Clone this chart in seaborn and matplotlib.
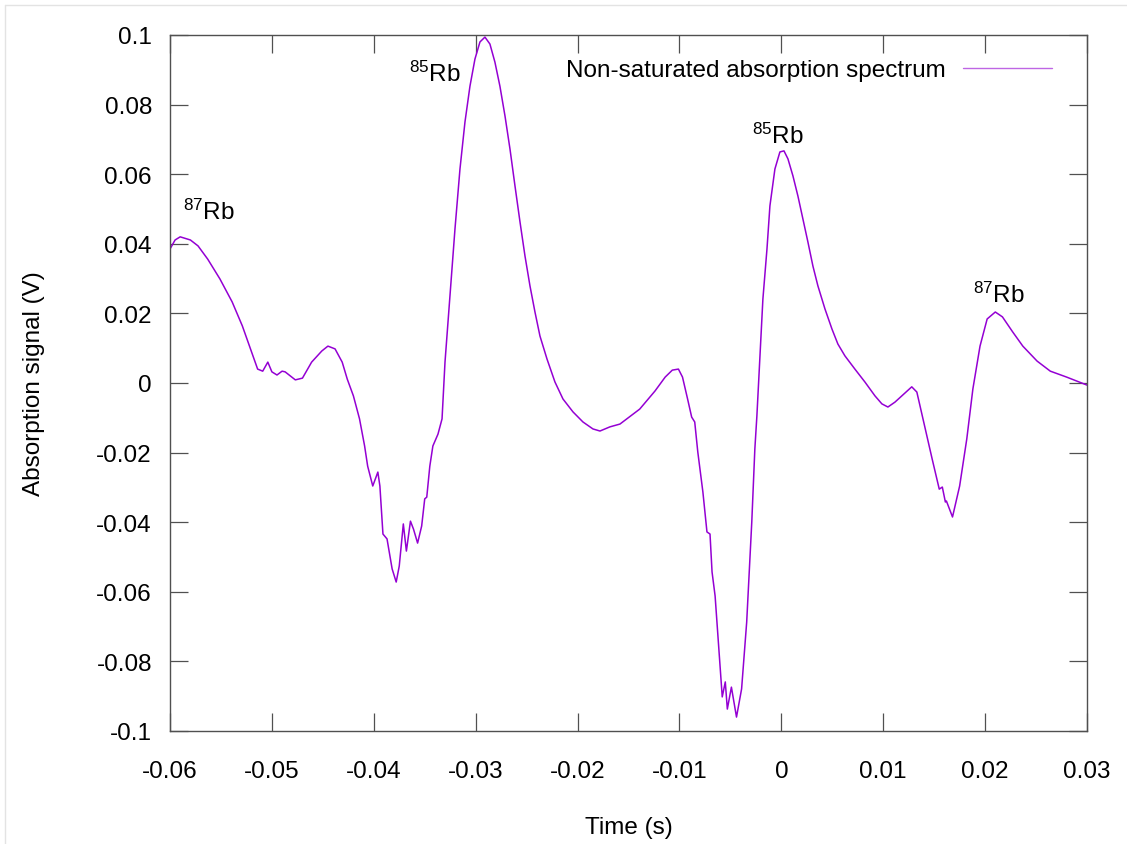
import numpy as np
import pandas as pd
import matplotlib
matplotlib.use("Agg")
import matplotlib.pyplot as plt
from matplotlib.lines import Line2D
import seaborn as sns

# ---- data ----
time_s = [
    -0.0600, -0.0595, -0.0590, -0.0580, -0.05725, -0.0563, -0.0551, -0.0539, -0.0529, -0.0521,
    -0.0514, -0.0509, -0.0504, -0.0500, -0.0495, -0.0490, -0.0487, -0.0477, -0.0470, -0.0461,
    -0.0451, -0.0445, -0.0438, -0.0431, -0.0426, -0.0420, -0.0414, -0.0409, -0.0406, -0.0401,
    -0.0396, -0.0394, -0.0391, -0.0387, -0.0382, -0.0378, -0.0375, -0.0371, -0.0368, -0.0364,
    -0.0361, -0.0357, -0.0353, -0.0350, -0.0348, -0.0345, -0.0342, -0.0337, -0.0333, -0.03301,
    -0.03252, -0.03203, -0.03154, -0.03105, -0.03056, -0.03007, -0.02958, -0.02909, -0.02860, -0.02811,
    -0.02762, -0.02712, -0.02663, -0.02614, -0.02565, -0.02516, -0.02467, -0.02418, -0.02369, -0.02300,
    -0.02222, -0.02143, -0.02045, -0.01947, -0.01849, -0.01780, -0.01682, -0.01584, -0.0139, -0.0124,
    -0.0114, -0.0107, -0.0101, -0.0097, -0.0092, -0.0088, -0.0085, -0.0082, -0.0077, -0.0073,
    -0.0070, -0.0068, -0.0065, -0.0062, -0.0058, -0.0055, -0.0053, -0.0049, -0.0044, -0.0039,
    -0.0034, -0.0029, -0.0026, -0.00240, -0.00210, -0.00181, -0.00141, -0.00112, -0.00063, -0.00014,
    0.00026, 0.00065, 0.00114, 0.00163, 0.00212, 0.00261, 0.00310, 0.00359, 0.00428, 0.00497,
    0.00555, 0.00624, 0.00722, 0.00820, 0.00919, 0.00987, 0.01046, 0.01115, 0.0128, 0.0133,
    0.0139, 0.0148, 0.0155, 0.0158, 0.0161, 0.0162, 0.0168, 0.0175, 0.0182, 0.0188,
    0.0195, 0.0202, 0.0210, 0.0217, 0.0227, 0.0237, 0.0251, 0.0264, 0.0280, 0.0300,
]
signal_v = [
    0.0385, 0.0411, 0.0420, 0.0411, 0.0394, 0.0356, 0.0299, 0.0233, 0.0164, 0.0098,
    0.0040, 0.0034, 0.0060, 0.0032, 0.0023, 0.0034, 0.0032, 0.0009, 0.0014, 0.0060,
    0.0092, 0.0106, 0.0098, 0.0060, 0.0011, -0.0037, -0.0103, -0.0181, -0.0239, -0.0296,
    -0.0256, -0.0296, -0.0434, -0.0448, -0.0534, -0.0572, -0.0526, -0.0405, -0.0483, -0.0397,
    -0.0420, -0.0460, -0.0411, -0.0333, -0.0328, -0.0239, -0.0181, -0.0147, -0.0103, 0.0060,
    0.0250, 0.0443, 0.0615, 0.0750, 0.0853, 0.0931, 0.0980, 0.0994, 0.0974, 0.0922,
    0.0853, 0.0767, 0.0672, 0.0566, 0.0463, 0.0365, 0.0279, 0.0204, 0.0135, 0.0069,
    0.0003, -0.0046, -0.0083, -0.0112, -0.0132, -0.0138, -0.0126, -0.0118, -0.0075, -0.0023,
    0.0017, 0.0037, 0.0040, 0.0017, -0.0046, -0.0098, -0.0112, -0.0198, -0.0313, -0.0428,
    -0.0434, -0.0543, -0.0612, -0.0736, -0.0902, -0.0859, -0.0937, -0.0874, -0.0960, -0.0879,
    -0.0687, -0.0399, -0.0190, -0.0095, 0.0078, 0.0241, 0.0385, 0.0509, 0.0615, 0.0664,
    0.0667, 0.0644, 0.0595, 0.0537, 0.0471, 0.0405, 0.0336, 0.0279, 0.0213, 0.0155,
    0.0112, 0.0078, 0.0040, 0.0003, -0.0037, -0.0060, -0.0069, -0.0055, -0.0011, -0.0026,
    -0.0103, -0.0218, -0.0305, -0.0299, -0.0342, -0.0339, -0.0385, -0.0296, -0.0161, -0.0017,
    0.0106, 0.0184, 0.0204, 0.0190, 0.0147, 0.0106, 0.0063, 0.0034, 0.0017, -0.0006,
]

peak_labels = [r"$^{87}$Rb", r"$^{85}$Rb", r"$^{85}$Rb", r"$^{87}$Rb"]
peak_label_x = [-0.05617, -0.03404, -0.00033, 0.02131]
peak_label_y = [0.0471, 0.0868, 0.0690, 0.0233]

x_ticks = [-0.06, -0.05, -0.04, -0.03, -0.02, -0.01, 0, 0.01, 0.02, 0.03]
x_tick_labels = ["-0.06", "-0.05", "-0.04", "-0.03", "-0.02", "-0.01", "0", "0.01", "0.02", "0.03"]
y_ticks = [-0.1, -0.08, -0.06, -0.04, -0.02, 0, 0.02, 0.04, 0.06, 0.08, 0.1]
y_tick_labels = ["-0.1", "-0.08", "-0.06", "-0.04", "-0.02", "0", "0.02", "0.04", "0.06", "0.08", "0.1"]

series_name = "Non-saturated absorption spectrum"

# ---- style ----
sns.set_theme(style="ticks")
plt.rcParams["font.family"] = ["Liberation Sans", "DejaVu Sans"]
plt.rcParams["mathtext.fontset"] = "custom"
plt.rcParams["mathtext.rm"] = "Liberation Sans"
plt.rcParams["mathtext.it"] = "Liberation Sans:italic"
plt.rcParams["mathtext.bf"] = "Liberation Sans:bold"
plt.rcParams["axes.unicode_minus"] = False
plt.rcParams["text.color"] = "black"

FS = 17.5
LINE_COLOR = "#9400D3"
FRAME_COLOR = "#505050"

fig = plt.figure(figsize=(11.27, 8.45), dpi=100)
fig.patch.set_facecolor("white")
ax = fig.add_axes([170 / 1127, 1 - 732 / 845, (1087 - 170) / 1127, (732 - 36) / 845])

df = pd.DataFrame({"time": time_s, "signal": signal_v})
sns.lineplot(data=df, x="time", y="signal", sort=False, estimator=None,
             color=LINE_COLOR, linewidth=1.1, label=series_name, ax=ax)

ax.set_xlim(-0.06, 0.03)
ax.set_ylim(-0.1, 0.1)
ax.set_xticks(x_ticks)
ax.set_xticklabels(x_tick_labels)
ax.set_yticks(y_ticks)
ax.set_yticklabels(y_tick_labels)

for side in ["left", "right", "top", "bottom"]:
    ax.spines[side].set_visible(True)
    ax.spines[side].set_color(FRAME_COLOR)
    ax.spines[side].set_linewidth(1.0)

ax.tick_params(axis="both", which="major", direction="in", length=13, width=0.9,
               color=FRAME_COLOR, labelsize=FS, labelcolor="black",
               top=True, right=True)
ax.tick_params(axis="x", pad=21)
ax.tick_params(axis="y", pad=13)

ax.set_xlabel("Time (s)", fontsize=FS, color="black", va="center")
ax.xaxis.set_label_coords(0.5, (732 - 828) / 696)
ax.set_ylabel("Absorption signal (V)", fontsize=FS, color="black", va="center")
ax.yaxis.set_label_coords((34 - 170) / 917, 0.5)

for lbl, lx, ly in zip(peak_labels, peak_label_x, peak_label_y):
    ax.text(lx, ly, lbl, fontsize=FS, ha="center", va="baseline", color="black")

leg = ax.legend(loc="upper right", bbox_to_anchor=((1052 - 170) / 917, (732 - 60) / 696),
                frameon=False, markerfirst=False, fontsize=FS, handlelength=3.66,
                handletextpad=0.7, borderpad=0, borderaxespad=0, labelcolor="black")
for h in leg.get_lines():
    h.set_linewidth(1.0)
    h.set_alpha(0.6)

# light frame around the picture (left and top edges)
fig.add_artist(Line2D([5 / 1127, 5 / 1127], [0, 1 - 6 / 845], transform=fig.transFigure,
                      color="#e3e3e3", linewidth=1.0))
fig.add_artist(Line2D([5 / 1127, 1], [1 - 6 / 845, 1 - 6 / 845], transform=fig.transFigure,
                      color="#e3e3e3", linewidth=1.0))

fig.savefig("out.png", dpi=100)
